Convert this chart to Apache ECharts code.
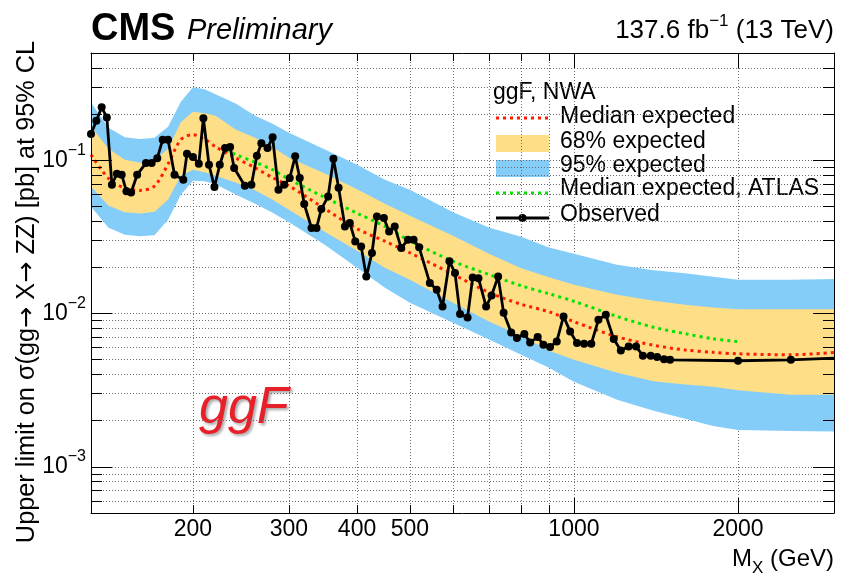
<!DOCTYPE html>
<html><head><meta charset="utf-8">
<script src="https://cdn.jsdelivr.net/npm/echarts@6/dist/echarts.min.js"></script>
<style>html,body{margin:0;padding:0;background:#fff}#c{width:841px;height:574px}</style>
</head><body><div id="c"></div>
<script>
// ---------- data ----------
const X_MIN = 130, X_MAX = 3000, Y_MIN = 0.0005, Y_MAX = 0.5;
const xTickLabels = [200, 300, 400, 500, 1000, 2000];
const xMajorTicks = [1000, 2000];
const xMinorTicks = [200, 300, 400, 500, 600, 700, 800, 900];
const xGridValues = [200, 300, 400, 500, 600, 700, 800, 900, 1000, 2000];
const yTickLabels = [0.001, 0.01, 0.1];
const yMinorTicks = [0.0006, 0.0007, 0.0008, 0.0009, 0.002, 0.003, 0.004, 0.005, 0.006, 0.007, 0.008, 0.009,
  0.02, 0.03, 0.04, 0.05, 0.06, 0.07, 0.08, 0.09, 0.2, 0.3, 0.4];
const yGridValues = [0.0006, 0.0007, 0.0008, 0.0009, 0.001, 0.002, 0.003, 0.004, 0.005, 0.006, 0.007, 0.008, 0.009, 0.01,
  0.02, 0.03, 0.04, 0.05, 0.06, 0.07, 0.08, 0.09, 0.1, 0.2, 0.3, 0.4];

const massBand = [130, 140, 150, 160, 170, 180, 190, 200, 210, 220, 240, 260, 280, 300, 350, 400, 450, 500,
  600, 700, 800, 900, 1000, 1200, 1400, 1600, 1800, 2000, 2500, 3000];
const medianExp = [0.1085, 0.0760, 0.0657, 0.0635, 0.0678, 0.0944, 0.136, 0.1466, 0.137, 0.1224, 0.1030, 0.0893,
  0.0768, 0.0681, 0.0479, 0.0357, 0.0296, 0.0249, 0.0180, 0.01366, 0.01149, 0.01027, 0.00884, 0.00705, 0.00621,
  0.00578, 0.00558, 0.00546, 0.00538, 0.00557];
const exp68Hi = [0.166, 0.1187, 0.1007, 0.0963, 0.0999, 0.1187, 0.1769, 0.207, 0.2024, 0.195, 0.158, 0.140, 0.1215,
  0.1038, 0.0816, 0.0646, 0.0520, 0.0434, 0.0322, 0.0244, 0.01973, 0.01724, 0.0154, 0.01326, 0.01211, 0.0114,
  0.01095, 0.01066, 0.01068, 0.01068];
const exp68Lo = [0.0674, 0.0504, 0.0457, 0.0449, 0.0461, 0.0552, 0.0792, 0.0866, 0.0834, 0.0792, 0.0713, 0.0637,
  0.0552, 0.0475, 0.0339, 0.0257, 0.01988, 0.0166, 0.01175, 0.00884, 0.00716, 0.00571, 0.00499, 0.00411, 0.00361,
  0.00345, 0.00333, 0.00316, 0.00295, 0.00295];
const exp95Hi = [0.2370, 0.1628, 0.1412, 0.1374, 0.1401, 0.1653, 0.2405, 0.2991, 0.2903, 0.2693, 0.2335, 0.195,
  0.1729, 0.1510, 0.1170, 0.0934, 0.0746, 0.0642, 0.0457, 0.0363, 0.0317, 0.0269, 0.0245, 0.0208, 0.01915, 0.0183,
  0.01737, 0.0166, 0.0166, 0.01678];
const exp95Lo = [0.0499, 0.0363, 0.0326, 0.0319, 0.0324, 0.0409, 0.0595, 0.0735, 0.0729, 0.0697, 0.0595, 0.0520,
  0.0454, 0.0394, 0.0279, 0.01988, 0.01472, 0.01175, 0.0087, 0.00674, 0.00538, 0.00443, 0.00359, 0.00274, 0.00232,
  0.00206, 0.00185, 0.00174, 0.00171, 0.0017];

const massAtlas = [230, 240, 260, 280, 300, 350, 400, 450, 500, 600, 700, 800, 900, 1000, 1200, 1400, 1600, 1800, 2000];
const atlasMedian = [0.116, 0.1085, 0.0970, 0.0866, 0.0751, 0.0569, 0.0451, 0.0370, 0.0298, 0.0219, 0.0179, 0.01517,
  0.01345, 0.01202, 0.00957, 0.00813, 0.00738, 0.00684, 0.00657];

const massObs = [130, 133, 136, 139, 142, 145, 148, 151, 154, 158, 164, 168, 172, 176, 180, 185, 192, 195, 200, 205,
  209, 214, 219, 224, 229, 234, 238, 249, 256, 262, 267, 274, 280, 287, 294, 301, 308, 314, 320, 330,
  337, 344, 354, 362, 370, 380, 388, 397, 407, 416, 426, 435, 448, 458, 469, 482, 496, 508, 520, 544,
  560, 574, 591, 605, 618, 638, 652, 668, 690, 706, 726, 743, 767, 786, 811, 831, 858, 879, 904, 930,
  957, 984, 1013, 1044, 1076, 1109, 1144, 1183, 1219, 1260, 1300, 1338, 1383, 1421, 1463, 1501, 2000, 2500, 3000];
const observed = [0.148, 0.181, 0.221, 0.190, 0.0691, 0.0816, 0.0804, 0.0626, 0.0616, 0.0804,
  0.0958, 0.0958, 0.103, 0.136, 0.136, 0.0804, 0.0746, 0.110, 0.105, 0.0948,
  0.188, 0.0934, 0.0668, 0.0934, 0.120, 0.122, 0.0889, 0.0681, 0.0691, 0.107,
  0.129, 0.120, 0.141, 0.0641, 0.0691, 0.0765, 0.106, 0.0765, 0.0518, 0.0361,
  0.0361, 0.048, 0.058, 0.102, 0.0661, 0.0370, 0.0389, 0.0295, 0.0274, 0.0174,
  0.0248, 0.0430, 0.0419, 0.0343, 0.0370, 0.0267, 0.0303, 0.0303, 0.0270, 0.0158,
  0.0143, 0.0111, 0.0219, 0.0184, 0.00992, 0.00943, 0.0172, 0.0170, 0.0111, 0.0131,
  0.0174, 0.0101, 0.00752, 0.00692, 0.00735, 0.00648, 0.00702, 0.00626, 0.00605, 0.00658,
  0.00957, 0.00764, 0.00641, 0.00635, 0.00635, 0.0091, 0.00982, 0.00681, 0.00574, 0.0061,
  0.0061, 0.0053, 0.0053, 0.0052, 0.00504, 0.00499, 0.00492, 0.00499, 0.00512];

// ---------- style ----------
const FONT = "'Liberation Sans', Arial, Helvetica, sans-serif";
const C_BLUE = '#85cdf9', C_YELLOW = '#fede86', C_RED = '#ff1a00', C_GREEN = '#00e400';

const chart = echarts.init(document.getElementById('c'), null, {renderer: 'canvas'});

function xAx(extra) {
  return Object.assign({
    type: 'log', logBase: 10, min: X_MIN, max: X_MAX, gridIndex: 0,
    axisLine: {show: false}, axisTick: {show: false}, axisLabel: {show: false},
    splitLine: {show: false}, minorTick: {show: false}, minorSplitLine: {show: false}
  }, extra);
}
function yAx(extra) {
  return Object.assign({
    type: 'log', logBase: 10, min: Y_MIN, max: Y_MAX, gridIndex: 0,
    axisLine: {show: false}, axisTick: {show: false}, axisLabel: {show: false},
    splitLine: {show: false}, minorTick: {show: false}, minorSplitLine: {show: false}
  }, extra);
}
const tickLS = {color: '#000', width: 1};
const gridLS = {color: '#6a6a6a', width: 1, type: [1, 2]};

function band(name, lo, hi, color) {
  return {
    type: 'custom', name: name, xAxisIndex: 0, yAxisIndex: 0, z: 1, silent: true,
    data: [[massBand[0], medianExp[0]]],
    renderItem: function (params, api) {
      const pts = [];
      for (let i = 0; i < massBand.length; i++) pts.push(api.coord([massBand[i], hi[i]]));
      for (let i = massBand.length - 1; i >= 0; i--) pts.push(api.coord([massBand[i], lo[i]]));
      return {type: 'polygon', shape: {points: pts}, style: {fill: color, stroke: null}};
    }
  };
}

const option = {
  animation: false,
  backgroundColor: '#fff',
  grid: {left: 91, right: 7, top: 53, bottom: 61, containLabel: false},
  xAxis: [
    xAx({position: 'bottom', z: 5,
      axisLine: {show: true, onZero: false, lineStyle: {color: '#000', width: 1}},
      axisTick: {show: true, inside: true, length: 15, customValues: xMajorTicks, lineStyle: tickLS},
      axisLabel: {show: true, customValues: xTickLabels, margin: 5, color: '#000', fontSize: 23,
        fontFamily: FONT, formatter: function (v) { return String(Math.round(v)); }}}),
    xAx({position: 'bottom', z: 5,
      axisTick: {show: true, inside: true, length: 8, customValues: xMinorTicks, lineStyle: tickLS}}),
    xAx({position: 'bottom', z: 0,
      axisTick: {show: false, customValues: xGridValues},
      splitLine: {show: true, lineStyle: gridLS}}),
    xAx({position: 'top', z: 5,
      axisLine: {show: true, onZero: false, lineStyle: {color: '#000', width: 1}},
      axisTick: {show: true, inside: true, length: 15, customValues: xMajorTicks, lineStyle: tickLS}}),
    xAx({position: 'top', z: 5,
      axisTick: {show: true, inside: true, length: 8, customValues: xMinorTicks, lineStyle: tickLS}})
  ],
  yAxis: [
    yAx({position: 'left', z: 5,
      axisLine: {show: true, onZero: false, lineStyle: {color: '#000', width: 1}},
      axisTick: {show: true, inside: true, length: 21, customValues: yTickLabels, lineStyle: tickLS},
      axisLabel: {show: true, customValues: yTickLabels, margin: 5, color: '#000', fontFamily: FONT,
        formatter: function (v) {
          const e = Math.round(Math.log10(v));
          return '{b|10}{s|\u2212' + (-e) + '}';
        },
        rich: {
          b: {fontSize: 23, lineHeight: 36, fontFamily: FONT, color: '#000'},
          s: {fontSize: 16, lineHeight: 16, verticalAlign: 'top', fontFamily: FONT, color: '#000'}
        }}}),
    yAx({position: 'left', z: 5,
      axisTick: {show: true, inside: true, length: 11, customValues: yMinorTicks, lineStyle: tickLS}}),
    yAx({position: 'left', z: 0,
      axisTick: {show: false, customValues: yGridValues},
      splitLine: {show: true, lineStyle: gridLS}}),
    yAx({position: 'right', z: 5,
      axisLine: {show: true, onZero: false, lineStyle: {color: '#000', width: 1}},
      axisTick: {show: true, inside: true, length: 21, customValues: yTickLabels, lineStyle: tickLS}}),
    yAx({position: 'right', z: 5,
      axisTick: {show: true, inside: true, length: 11, customValues: yMinorTicks, lineStyle: tickLS}})
  ],
  series: [
    band('95% expected', exp95Lo, exp95Hi, C_BLUE),
    band('68% expected', exp68Lo, exp68Hi, C_YELLOW),
    {
      type: 'line', name: 'Median expected, ATLAS', xAxisIndex: 0, yAxisIndex: 0, z: 3,
      data: massAtlas.map(function (m, i) { return [m, atlasMedian[i]]; }),
      showSymbol: false, symbol: 'none', smooth: 0.3,
      lineStyle: {color: C_GREEN, width: 3, type: [3, 4]}
    },
    {
      type: 'line', name: 'Median expected', xAxisIndex: 0, yAxisIndex: 0, z: 3,
      data: massBand.map(function (m, i) { return [m, medianExp[i]]; }),
      showSymbol: false, symbol: 'none', smooth: 0.3,
      lineStyle: {color: C_RED, width: 3, type: [3, 4]}
    },
    {
      type: 'line', name: 'Observed', xAxisIndex: 0, yAxisIndex: 0, z: 4,
      data: massObs.map(function (m, i) {
        return m === X_MAX ? {value: [m, observed[i]], symbol: 'none'} : [m, observed[i]];
      }),
      symbol: 'circle', symbolSize: 8, showAllSymbol: true,
      lineStyle: {color: '#000', width: 2.8},
      itemStyle: {color: '#000'}
    }
  ],
  graphic: [
    {type: 'text', left: 91, top: 11, style: {text: 'CMS', font: 'bold 38px ' + FONT, fill: '#000'}},
    {type: 'text', left: 187, top: 16, style: {text: 'Preliminary', font: 'italic 29px ' + FONT, fill: '#000'}},
    {type: 'text', right: 7, top: 13, style: {
      text: '{n|137.6 fb}{s|\u22121}{n| (13 TeV)}', fill: '#000',
      rich: {n: {fontSize: 26, lineHeight: 36, fontFamily: FONT}, s: {fontSize: 17, lineHeight: 17, verticalAlign: 'top', fontFamily: FONT}}}},
    {type: 'text', x: 27, y: 292, rotation: Math.PI / 2, style: {
      text: '{n|Upper limit on \u03c3(gg}{a|\u2192}{n| X}{a|\u2192}{n| ZZ) [pb] at 95% CL}', fill: '#000',
      align: 'center', verticalAlign: 'middle',
      rich: {n: {fontSize: 25.3, fontFamily: FONT, lineHeight: 28}, a: {fontSize: 25.3, fontFamily: "'DejaVu Sans', sans-serif", lineHeight: 28}}}},
    {type: 'text', right: 7, top: 547, style: {
      text: '{n|M}{s|X}{n| (GeV)}', fill: '#000',
      rich: {n: {fontSize: 24, lineHeight: 36, fontFamily: FONT}, s: {fontSize: 17, lineHeight: 17, verticalAlign: 'bottom', fontFamily: FONT}}}},
    {type: 'text', left: 199, top: 383, style: {
      text: 'ggF', fontFamily: 'Liberation Sans', fontStyle: 'italic', fontSize: 52, fill: '#e8202a',
      textShadowColor: 'rgba(0,0,0,0.35)', textShadowBlur: 3, textShadowOffsetX: 2, textShadowOffsetY: 2}},
    // legend
    {type: 'text', left: 493, top: 81, style: {text: 'ggF, NWA', font: '23px ' + FONT, fill: '#000'}},
    {type: 'line', shape: {x1: 496, y1: 118, x2: 549, y2: 118}, style: {stroke: C_RED, lineWidth: 3, lineDash: [3, 4]}},
    {type: 'text', left: 560, top: 105, style: {text: 'Median expected', font: '23px ' + FONT, fill: '#000'}},
    {type: 'rect', shape: {x: 496, y: 135, width: 53, height: 17}, style: {fill: C_YELLOW}},
    {type: 'text', left: 560, top: 130, style: {text: '68% expected', font: '23px ' + FONT, fill: '#000'}},
    {type: 'rect', shape: {x: 496, y: 160, width: 53, height: 17}, style: {fill: C_BLUE}},
    {type: 'text', left: 560, top: 154, style: {text: '95% expected', font: '23px ' + FONT, fill: '#000'}},
    {type: 'line', shape: {x1: 496, y1: 193, x2: 549, y2: 193}, style: {stroke: C_GREEN, lineWidth: 3, lineDash: [3, 4]}},
    {type: 'text', left: 560, top: 177, style: {text: 'Median expected, ATLAS', font: '23px ' + FONT, fill: '#000'}},
    {type: 'line', shape: {x1: 496, y1: 218, x2: 549, y2: 218}, style: {stroke: '#000', lineWidth: 2.8}},
    {type: 'circle', shape: {cx: 522.5, cy: 218, r: 4}, style: {fill: '#000'}},
    {type: 'text', left: 560, top: 203, style: {text: 'Observed', font: '23px ' + FONT, fill: '#000'}}
  ]
};
chart.setOption(option);
</script></body></html>
